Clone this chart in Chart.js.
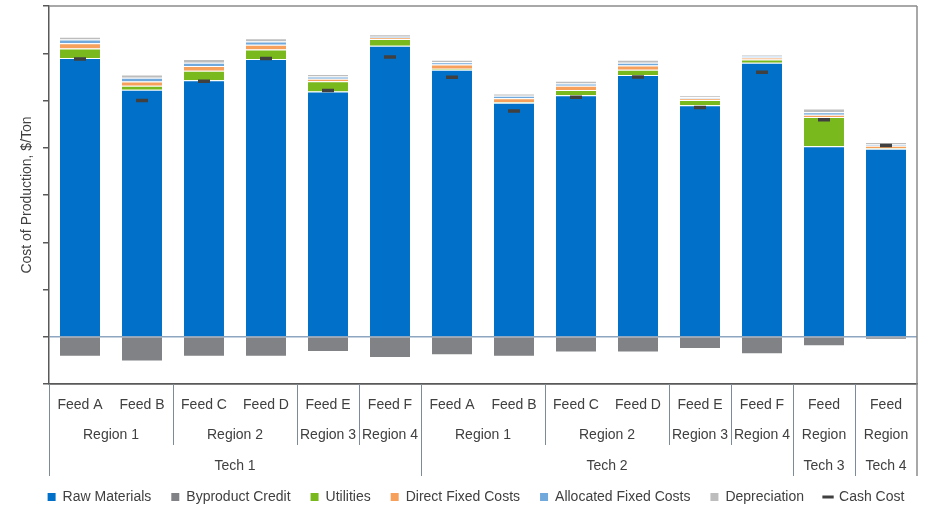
<!DOCTYPE html>
<html>
<head>
<meta charset="utf-8">
<script src="https://cdn.jsdelivr.net/npm/chart.js@4.4.1/dist/chart.umd.min.js"></script>
<style>
  html, body { margin: 0; padding: 0; background: #fff; }
  #wrap { width: 952px; height: 526px; position: relative; }
</style>
</head>
<body>
<div id="wrap"><canvas id="costChart"></canvas></div>
<script>
// Categories (three levels: feed / region / tech)
const feeds = ['Feed A', 'Feed B', 'Feed C', 'Feed D', 'Feed E', 'Feed F',
  'Feed A', 'Feed B', 'Feed C', 'Feed D', 'Feed E', 'Feed F', 'Feed', 'Feed'];
const regions = ['Region 1', 'Region 1', 'Region 2', 'Region 2', 'Region 3', 'Region 4',
  'Region 1', 'Region 1', 'Region 2', 'Region 2', 'Region 3', 'Region 4', 'Region', 'Region'];
const techs = ['Tech 1', 'Tech 1', 'Tech 1', 'Tech 1', 'Tech 1', 'Tech 1',
  'Tech 2', 'Tech 2', 'Tech 2', 'Tech 2', 'Tech 2', 'Tech 2', 'Tech 3', 'Tech 4'];

// Series values, $/Ton
const rawMaterials   = [590, 523, 543, 588, 519, 616, 565, 495, 511, 554, 490, 580, 403, 398];
const byproduct      = [-40, -50, -40, -40, -30, -43, -37, -40, -31, -31, -24, -35, -18, -4];
const utilities      = [20, 8, 20, 20, 22, 14, 2, 2, 11, 11, 11, 7, 62, 1];
const directFixed    = [11, 9, 10, 10, 5, 3, 9, 8, 9, 9, 3, 4, 5, 5];
const allocatedFixed = [8, 8, 7, 7, 5, 2, 5, 5, 5, 6, 3, 3, 5, 3];
const depreciation   = [6, 7, 8, 7, 5, 5, 5, 5, 6, 6, 4, 3, 8, 5];
const cashCost       = [588, 500, 541, 589, 521, 592, 549, 478, 507, 550, 485, 560, 459, 405];

// y axis range (ticks have no labels)
const Y_MIN = -100;
const Y_MAX = 700;
const Y_STEP = 100;

const FONT = "'Liberation Sans', Arial, sans-serif";
const TEXT = '#404040';

function bar(label, data, color, border) {
  return {
    type: 'bar',
    label: label,
    data: data,
    backgroundColor: color,
    borderColor: '#ffffff',
    borderWidth: { top: border, bottom: 0, left: 0, right: 0 },
    borderSkipped: false,
    barPercentage: 0.645,
    categoryPercentage: 1.0,
    order: 1
  };
}

// Draws the grouped category table under the plot and the plot frame
const categoryTable = {
  id: 'categoryTable',
  afterDraw(chart) {
    const { ctx, chartArea: a, scales: { x } } = chart;
    const half = (x.getPixelForValue(1) - x.getPixelForValue(0)) / 2;
    const n = feeds.length;
    ctx.save();
    ctx.font = '14px ' + FONT;
    ctx.fillStyle = TEXT;
    ctx.textAlign = 'center';
    ctx.textBaseline = 'middle';

    // feed row
    for (let i = 0; i < n; i++) {
      ctx.fillText(feeds[i], x.getPixelForValue(i), a.bottom + 21);
    }
    // region row and tech row, grouped on consecutive equal entries
    function groups(keyFn) {
      const out = [];
      let start = 0;
      for (let i = 1; i <= n; i++) {
        if (i === n || keyFn(i) !== keyFn(start)) {
          out.push([start, i - 1]);
          start = i;
        }
      }
      return out;
    }
    groups(i => techs[i] + '|' + regions[i]).forEach(([s, e]) => {
      const cx = (x.getPixelForValue(s) + x.getPixelForValue(e)) / 2;
      ctx.fillText(regions[s], cx, a.bottom + 51);
    });
    groups(i => techs[i]).forEach(([s, e]) => {
      const cx = (x.getPixelForValue(s) + x.getPixelForValue(e)) / 2;
      ctx.fillText(techs[s], cx, a.bottom + 82);
    });

    // separators
    ctx.lineWidth = 1;
    ctx.strokeStyle = '#7d8a97';
    for (let i = 1; i < n; i++) {
      const px = Math.round(x.getPixelForValue(i) - half) + 0.5;
      let len = 0;
      if (techs[i] !== techs[i - 1]) len = 92;
      else if (regions[i] !== regions[i - 1]) len = 61;
      if (len) {
        ctx.beginPath();
        ctx.moveTo(px, a.bottom);
        ctx.lineTo(px, a.bottom + len);
        ctx.stroke();
      }
    }
    // left axis extension
    ctx.beginPath();
    ctx.moveTo(Math.round(a.left) + 0.5, a.bottom);
    ctx.lineTo(Math.round(a.left) + 0.5, a.bottom + 92);
    ctx.stroke();
    // top and right frame
    ctx.strokeStyle = '#8c8c8c';
    ctx.lineWidth = 1.5;
    ctx.beginPath();
    ctx.moveTo(a.left, a.top);
    ctx.lineTo(a.right, a.top);
    ctx.moveTo(a.right, a.top);
    ctx.lineTo(a.right, a.bottom + 92);
    ctx.stroke();
    ctx.restore();
  }
};

const ctx = document.getElementById('costChart').getContext('2d');
const costChart = new Chart(ctx, {
  data: {
    labels: feeds,
    datasets: [
      bar('Raw Materials', rawMaterials, '#0070C8', 1),
      bar('Byproduct Credit', byproduct, '#808285', 0),
      bar('Utilities', utilities, '#7AB91E', 1),
      bar('Direct Fixed Costs', directFixed, '#F6A05B', 1),
      bar('Allocated Fixed Costs', allocatedFixed, '#72A9DC', 1),
      bar('Depreciation', depreciation, '#BDBDBD', 1),
      {
        type: 'line',
        label: 'Cash Cost',
        data: cashCost,
        showLine: false,
        pointStyle: 'line',
        pointRadius: 6,
        pointHoverRadius: 6,
        pointBorderWidth: 3.5,
        borderColor: '#404040',
        backgroundColor: '#404040',
        order: 0
      }
    ]
  },
  options: {
    responsive: true,
    maintainAspectRatio: false,
    animation: false,
    events: [],
    layout: { autoPadding: false, padding: { top: 6, left: 0, right: 0, bottom: 12 } },
    scales: {
      x: {
        stacked: true,
        grid: { display: false },
        border: { display: true, color: '#595959', width: 1.5 },
        ticks: { display: false },
        afterFit: (s) => { s.height = 86; }
      },
      y: {
        stacked: true,
        min: Y_MIN,
        max: Y_MAX,
        ticks: { display: false, stepSize: Y_STEP },
        grid: {
          drawTicks: true,
          tickLength: 6,
          tickColor: '#595959',
          color: (c) => {
            if (!c.tick) return 'rgba(0,0,0,0)';
            if (c.tick.value === 0) return '#8EA6BF';
            if (c.tick.value === Y_MIN) return '#595959';
            return 'rgba(0,0,0,0)';
          },
          lineWidth: 1.5
        },
        border: { display: true, color: '#595959', width: 1.5 },
        title: {
          display: true,
          text: 'Cost of Production, $/Ton',
          color: TEXT,
          font: { family: FONT, size: 14 },
          padding: { top: 19, bottom: 0 }
        },
        afterFit: (s) => { s.width = 49; }
      },
      yRight: {
        position: 'right',
        display: true,
        min: Y_MIN,
        max: Y_MAX,
        grid: { display: false },
        border: { display: false },
        ticks: { display: false },
        afterFit: (s) => { s.width = 35; }
      }
    },
    plugins: {
      tooltip: { enabled: false },
      legend: {
        position: 'bottom',
        labels: {
          usePointStyle: true,
          boxWidth: 8,
          boxHeight: 8,
          padding: 20,
          color: TEXT,
          font: { family: FONT, size: 14 },
          generateLabels: (chart) => {
            const items = Chart.defaults.plugins.legend.labels.generateLabels(chart);
            items.forEach(item => {
              if (item.datasetIndex === 6) {
                item.pointStyle = 'line';
                item.lineWidth = 3;
                item.strokeStyle = '#404040';
              } else {
                item.pointStyle = 'rect';
                item.lineWidth = 0;
              }
            });
            return items.sort((p, q) => p.datasetIndex - q.datasetIndex);
          }
        }
      }
    }
  },
  plugins: [categoryTable]
});
</script>
</body>
</html>
